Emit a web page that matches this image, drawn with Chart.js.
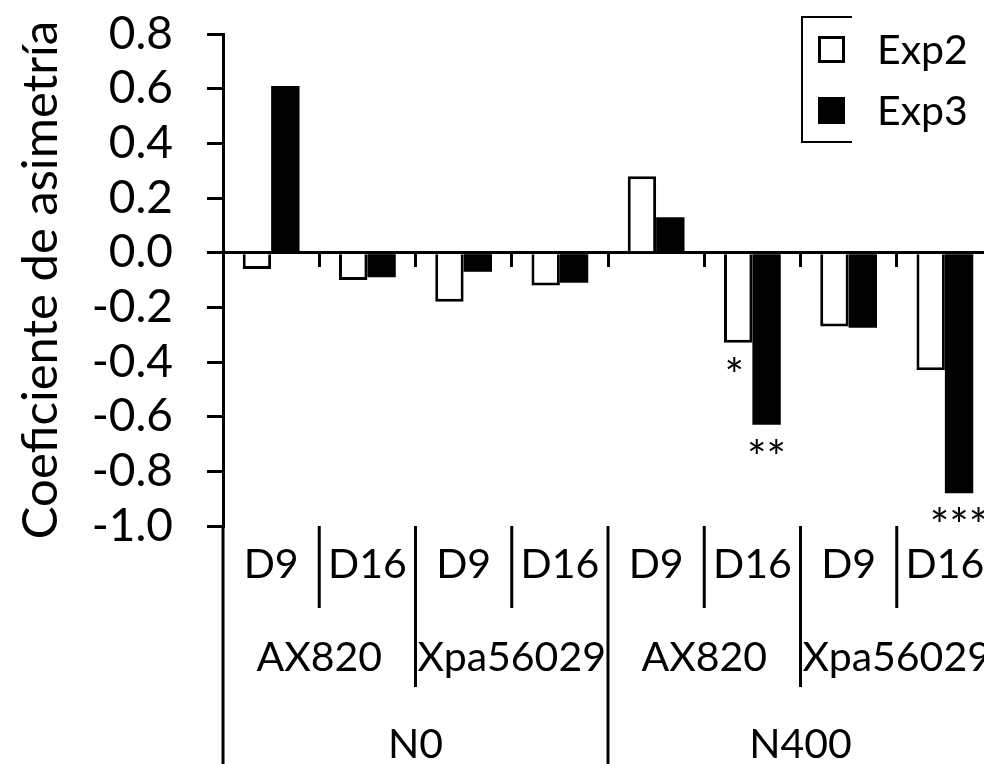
<!DOCTYPE html>
<html>
<head>
<meta charset="utf-8">
<title>Coeficiente de asimetría</title>
<script src="https://cdn.jsdelivr.net/npm/chart.js@4.4.0/dist/chart.umd.min.js"></script>
<style>
    html, body { margin: 0; padding: 0; background: #fff; overflow: hidden; }
    #chart_box { width: 1000px; height: 764px; }
</style>
</head>
<body>
<div id="chart_box"><canvas id="myBarChart" width="1000" height="764"></canvas></div>
<script>
// x categories, innermost level first
const days = ['D9', 'D16', 'D9', 'D16', 'D9', 'D16', 'D9', 'D16'];
const strains = ['AX820', 'Xpa56029', 'AX820', 'Xpa56029'];
const nitrogen = ['N0', 'N400'];

// series values
const exp2 = [-0.06, -0.10, -0.18, -0.12, 0.28, -0.33, -0.27, -0.43];
const exp3 = [0.61, -0.09, -0.07, -0.11, 0.13, -0.63, -0.275, -0.88];

// significance marks under the bars
const sigExp2 = ['', '', '', '', '', '*', '', ''];
const sigExp3 = ['', '', '', '', '', '**', '', '***'];

// y axis ticks
const yMin = -1.0, yMax = 0.8, yStep = 0.2;

const FONT = 'Lato, "Open Sans", sans-serif';
const TICK_SIZE = 46,
    TITLE_SIZE = 49,
    CAT_SIZE = 41;
const ctx = document.getElementById('myBarChart').getContext('2d');

// draws the three rows of category labels under the plot, the stars and the legend
const extraDrawing = {
    id: 'extraDrawing',
    afterDraw(chart) {
        const c = chart.ctx,
            xs = chart.scales.x,
            area = chart.chartArea;
        const edge = k => xs.getPixelForValue(k - 0.5);

        c.save();
        c.strokeStyle = '#000';
        c.fillStyle = '#000';
        c.lineWidth = 3;
        c.font = `${CAT_SIZE}px ${FONT}`;
        c.textAlign = 'center';
        c.textBaseline = 'alphabetic';

        const rows = [
            { labels: days, span: 1, lineEnd: 608, base: 578 },
            { labels: strains, span: 2, lineEnd: 687, base: 671 },
            { labels: nitrogen, span: 4, lineEnd: 770, base: 758 }
        ];

        // divider lines, longer where a higher level also splits
        for (let k = 0; k <= days.length; k++) {
            let end = 0;
            rows.forEach(r => { if (k % r.span === 0) end = r.lineEnd; });
            c.beginPath();
            c.moveTo(edge(k), area.bottom);
            c.lineTo(edge(k), end);
            c.stroke();
        }

        rows.forEach(r => {
            r.labels.forEach((t, i) => {
                const x = (edge(i * r.span) + edge((i + 1) * r.span)) / 2;
                c.fillText(t, x, r.base);
            });
        });

        // stars under the bars
        c.font = `${TICK_SIZE}px ${FONT}`;
        [sigExp2, sigExp3].forEach((marks, d) => {
            const meta = chart.getDatasetMeta(d);
            marks.forEach((m, i) => {
                if (!m) return;
                const bar = meta.data[i];
                c.fillText(m, bar.x - (d === 0 ? 4 : 0), bar.y + 49);
            });
        });

        // legend, the frame is only partly visible in the original
        const lx = 802, ly = 17, lh = 125;
        c.lineWidth = 2;
        c.beginPath();
        c.moveTo(852, ly);
        c.lineTo(lx, ly);
        c.lineTo(lx, ly + lh);
        c.lineTo(852, ly + lh);
        c.stroke();

        c.font = `${CAT_SIZE}px ${FONT}`;
        c.textAlign = 'left';
        chart.data.datasets.forEach((ds, i) => {
            const cy = 49 + i * 61;
            c.fillStyle = ds.backgroundColor;
            c.fillRect(818, cy - 13, 27, 27);
            if (ds.borderWidth) {
                c.lineWidth = 3;
                c.strokeStyle = ds.borderColor;
                c.strokeRect(819.5, cy - 11.5, 24, 24);
            }
            c.fillStyle = '#000';
            c.fillText(ds.label, 877, cy + 15);
        });

        c.restore();
    }
};

new Chart(ctx, {
    type: 'bar',
    data: {
        labels: days,
        datasets: [{
            label: 'Exp2',
            data: exp2,
            backgroundColor: '#ffffff',
            borderColor: '#000000',
            borderWidth: 3,
            borderSkipped: 'start'
        }, {
            label: 'Exp3',
            data: exp3,
            backgroundColor: '#000000',
            borderColor: '#000000',
            borderWidth: 0
        }]
    },
    options: {
        responsive: false,
        animation: false,
        categoryPercentage: 0.59,
        barPercentage: 1.0,
        layout: { padding: { left: 0, right: 7, top: 34, bottom: 238 } },
        plugins: {
            legend: { display: false },
            tooltip: { enabled: false }
        },
        scales: {
            x: {
                position: { y: 0 },
                z: 1,
                ticks: { display: false },
                grid: { drawOnChartArea: false, offset: true, tickLength: 13, color: '#000', lineWidth: 3 },
                border: { color: '#000', width: 3 }
            },
            y: {
                min: yMin,
                max: yMax,
                ticks: {
                    stepSize: yStep,
                    autoSkip: false,
                    padding: 34,
                    color: '#000',
                    font: { family: FONT, size: TICK_SIZE },
                    callback: v => v.toFixed(1)
                },
                grid: { drawOnChartArea: false, tickLength: 16, color: '#000', lineWidth: 3 },
                border: { color: '#000', width: 3 },
                title: {
                    display: true,
                    text: 'Coeficiente de asimetría',
                    color: '#000',
                    font: { family: FONT, size: TITLE_SIZE },
                    padding: { top: 12, bottom: 0 }
                },
                afterFit: scale => {
                    scale.width = 223;
                    scale.paddingTop = 0;
                    scale.paddingBottom = 0;
                }
            }
        }
    },
    plugins: [extraDrawing]
});
</script>
</body>
</html>
